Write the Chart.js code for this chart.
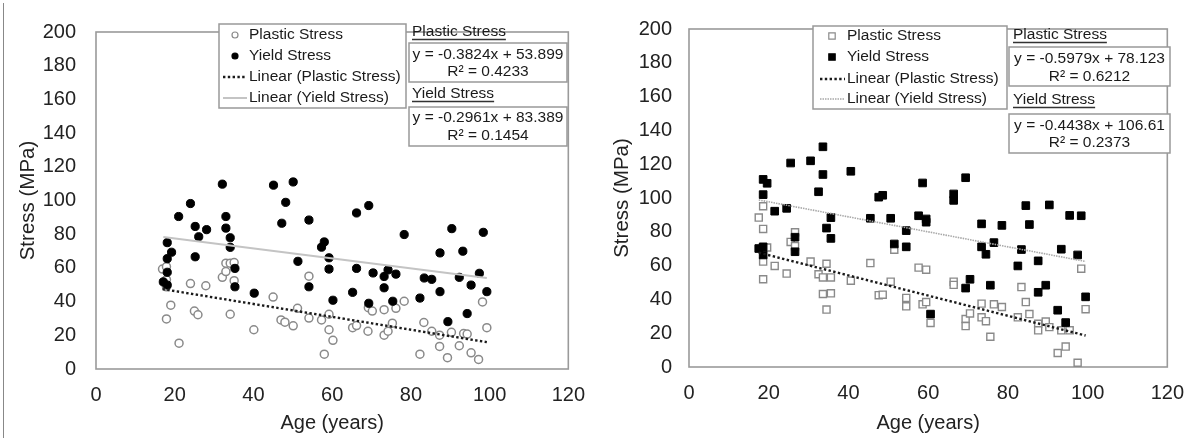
<!DOCTYPE html>
<html>
<head>
<meta charset="utf-8">
<script src="https://cdn.jsdelivr.net/npm/chart.js@4.4.1/dist/chart.umd.min.js"></script>
<style>
  html, body { margin: 0; padding: 0; background: #fff; }
  #wrap { position: relative; width: 1198px; height: 438px; }
  .box { position: absolute; top: 0; width: 599px; height: 438px; }
</style>
</head>
<body>
<div id="wrap">
  <div class="box" style="left:0"><canvas id="left"></canvas></div>
  <div class="box" style="left:599px"><canvas id="right"></canvas></div>
</div>
<script>
// values (age in years, stress in MPa)
const xTicks = [0, 20, 40, 60, 80, 100, 120];
const yTicks = [0, 20, 40, 60, 80, 100, 120, 140, 160, 180, 200];

// left panel (circles)
const yieldAgeL = [17.1, 18.1, 18.1, 18.1, 18.1, 19.2, 21, 24, 25.2, 25.2, 26.1, 28.1, 32.1, 33, 33, 34.1, 34.1, 35.3, 35.3, 40.2,
  45.1, 47.2, 48.2, 50.1, 51.3, 54.1, 54.1, 57.3, 58, 59.2, 59.2, 60.2, 66.2, 65.2, 66.2, 69.3, 69.3, 70.4, 73.2, 73.2,
  74.2, 75.4, 76.2, 78.3, 82.3, 83.4, 85.3, 87.4, 87.4, 89.4, 90.4, 92.3, 93.2, 94.3, 95.3, 97.4, 98.4, 99.3];
const yieldStressL = [51.7, 75, 65.5, 57.4, 49.8, 69.3, 90.5, 98.2, 84.6, 66.6, 78.5, 82.7, 109.7, 90.5, 83.6, 77.9, 72.2, 59.7, 48.8, 45,
  109.1, 86.5, 98.9, 111, 63.9, 88.4, 48.8, 72.3, 75.4, 66, 59.3, 40.8, 92.6, 45.5, 59.7, 97, 39, 57, 54.9, 48.2,
  58.8, 40.2, 56.3, 79.8, 42.1, 54, 53.2, 68.9, 45.9, 28.1, 83.3, 54.4, 69.9, 32.9, 49.8, 56.8, 81.1, 45.9];
const plasticAgeL = [16.9, 17.9, 17.9, 17.9, 17.9, 19, 21.1, 24, 25, 25.9, 27.9, 32.1, 33, 33, 34.1, 35.1, 35.1, 34.1, 40.1,
  45, 47, 48, 50.1, 51.2, 54.1, 54.1, 57.3, 59.2, 58, 59.2, 60.2, 65.2, 66.2, 69.1, 69.2, 70.2, 73.2, 73.2, 74.2,
  75.3, 76.2, 78.3, 82.3, 83.3, 85.3, 87.3, 87.3, 89.3, 90.3, 92.3, 93.4, 94.3, 95.3, 97.2, 98.2, 99.3];
const plasticStressL = [59.3, 60.7, 53, 48.8, 29.7, 37.9, 15.3, 50.7, 34.4, 32.2, 49.4, 54.4, 57.8, 62.8, 62.8, 63.2, 52.4, 32.5, 23.3,
  42.7, 29.1, 27.8, 25.6, 36, 55.1, 30.2, 29.1, 32.5, 8.8, 23.3, 17, 24.5, 25.8, 22.4, 36.4, 34.4, 35.2, 20.1, 22.4,
  27.2, 36, 40.2, 8.8, 27.6, 22.4, 20.1, 13.4, 6.7, 21.8, 13.8, 21, 20.7, 9.6, 5.7, 39.8, 24.5];

// right panel (squares)
const yieldAgeR = [17.5, 18.6, 18.6, 18.6, 18.6, 19.6, 21.5, 24.5, 25.5, 26.6, 26.6, 30.5, 32.5, 33.6, 33.6, 34.5, 35.6, 35.6, 40.6,
  45.5, 47.6, 48.6, 50.6, 51.5, 54.5, 54.5, 57.6, 58.6, 59.5, 59.5, 60.6, 66.4, 66.4, 69.4, 69.4, 70.5, 73.4, 73.4, 74.5,
  75.6, 76.5, 78.5, 82.5, 83.4, 84.5, 85.4, 87.6, 87.6, 89.5, 90.4, 92.5, 93.4, 94.5, 95.5, 97.5, 98.4, 99.5];
const yieldStressR = [70.1, 111, 102, 71.1, 66.3, 108.7, 92.2, 93.9, 120.7, 76.8, 68.2, 122, 103.7, 130.3, 113.9, 82.2, 88.4, 76.1, 115.8,
  88, 100.5, 101.6, 88, 72.8, 80.7, 71.1, 89.5, 108.9, 87.6, 85.7, 31.3, 102.4, 98.6, 112, 46.7, 51.9, 84.7, 71.1, 66.7,
  48.4, 73.6, 83.8, 59.8, 69.5, 95.5, 84.3, 62.8, 44.2, 48.4, 95.9, 33.6, 69.7, 26.3, 89.7, 66.3, 89.5, 41.5];
const plasticAgeR = [17.5, 18.6, 18.6, 18.6, 18.6, 19.6, 21.5, 24.5, 25.5, 26.6, 26.6, 30.5, 32.5, 33.6, 33.6, 34.5, 34.5, 35.6, 35.6,
  40.6, 45.5, 47.6, 48.6, 50.6, 51.5, 54.5, 54.5, 57.6, 58.6, 59.5, 59.5, 60.6, 66.4, 66.4, 69.4, 69.4, 70.5, 73.4, 73.4,
  74.5, 75.6, 76.5, 78.5, 82.5, 83.4, 84.5, 85.4, 87.6, 87.6, 89.5, 90.4, 92.5, 93.4, 94.5, 95.5, 97.5, 98.4, 99.5];
const plasticStressR = [88.4, 95.1, 81.7, 62.4, 51.9, 70.7, 59.8, 55.3, 74, 79.7, 71.5, 62.4, 54.9, 53, 43.2, 61.1, 34, 53, 43.6,
  51.1, 61.5, 42.5, 42.8, 50.5, 69.4, 40.9, 35.9, 58.8, 37.1, 57.6, 38.4, 26.1, 50.5, 48.6, 28.4, 24.2, 31.7, 37.5, 29.4,
  27.1, 17.9, 37.1, 35.5, 29.4, 47.3, 38.4, 31.3, 25.6, 21.7, 26.9, 23.6, 8.3, 21.7, 12.1, 21.7, 2.5, 58.2, 34.2];

// trendline [slope, intercept] and R²
const plasticFitL = [-0.3824, 53.899], plasticR2L = 0.4233;
const yieldFitL = [-0.2961, 83.389], yieldR2L = 0.1454;
const plasticFitR = [-0.5979, 78.123], plasticR2R = 0.6212;
const yieldFitR = [-0.4438, 106.61], yieldR2R = 0.2373;

const FONT = '"Liberation Sans", Arial, sans-serif';
const INK = '#222';

function points(ages, stress) {
  return ages.map((a, i) => ({ x: a, y: stress[i] }));
}

function trend(ages, fit) {
  const x0 = Math.min(...ages), x1 = Math.max(...ages);
  return [{ x: x0, y: fit[0] * x0 + fit[1] }, { x: x1, y: fit[0] * x1 + fit[1] }];
}

function eqText(fit) {
  return 'y = ' + fit[0].toFixed(4) + 'x + ' + fit[1];
}

// frame, legend and equation boxes drawn on top of the chart
function deco(p) {
  return {
    id: 'deco',
    beforeDatasetsDraw(chart) {
      const { ctx, chartArea: a } = chart;
      ctx.save();
      ctx.strokeStyle = '#9a9a9a';
      ctx.lineWidth = 1.6;
      ctx.strokeRect(a.left, a.top, a.right - a.left, a.bottom - a.top);
      if (p.sep) {
        ctx.strokeStyle = '#888';
        ctx.lineWidth = 1;
        ctx.beginPath(); ctx.moveTo(3.5, 3); ctx.lineTo(3.5, 438); ctx.stroke();
      }
      ctx.restore();
    },
    afterDraw(chart) {
      const ctx = chart.ctx;
      const lg = p.legend;
      ctx.save();
      ctx.font = '15.5px ' + FONT;
      ctx.textBaseline = 'middle';

      ctx.fillStyle = '#fff';
      ctx.fillRect(lg.x0, lg.y0, lg.x1 - lg.x0, lg.y1 - lg.y0);
      ctx.strokeStyle = '#999';
      ctx.lineWidth = 1.5;
      ctx.strokeRect(lg.x0, lg.y0, lg.x1 - lg.x0, lg.y1 - lg.y0);

      chart.data.datasets.forEach((ds, i) => {
        const y = lg.rows[i];
        if (ds.showLine) {
          ctx.strokeStyle = ds.borderColor;
          ctx.lineWidth = ds.borderWidth;
          ctx.setLineDash(ds.borderDash || []);
          ctx.beginPath(); ctx.moveTo(lg.l0, y); ctx.lineTo(lg.l1, y); ctx.stroke();
          ctx.setLineDash([]);
        } else {
          ctx.fillStyle = ds.pointBackgroundColor;
          ctx.strokeStyle = ds.pointBorderColor;
          ctx.lineWidth = 1.2;
          ctx.beginPath();
          if (ds.pointStyle === 'rect') ctx.rect(lg.sx - 3.2, y - 3.2, 6.4, 6.4);
          else ctx.arc(lg.sx, y, 3, 0, Math.PI * 2);
          ctx.fill(); ctx.stroke();
        }
        ctx.fillStyle = '#1a1a1a';
        ctx.textAlign = 'left';
        ctx.fillText(ds.label, lg.tx, y);
      });

      p.eqs.forEach(e => {
        ctx.fillStyle = '#1a1a1a';
        ctx.textAlign = 'left';
        ctx.fillText(e.name, e.hx, e.hy);
        const w = ctx.measureText(e.name).width;
        ctx.strokeStyle = '#333';
        ctx.lineWidth = 1.4;
        ctx.beginPath(); ctx.moveTo(e.hx, e.hy + 7.5); ctx.lineTo(e.hx + w, e.hy + 7.5); ctx.stroke();

        ctx.fillStyle = '#fff';
        ctx.fillRect(e.bx0, e.by0, e.bx1 - e.bx0, e.by1 - e.by0);
        ctx.strokeStyle = '#999';
        ctx.lineWidth = 1.5;
        ctx.strokeRect(e.bx0, e.by0, e.bx1 - e.bx0, e.by1 - e.by0);
        ctx.fillStyle = '#1a1a1a';
        ctx.textAlign = 'center';
        const cx = (e.bx0 + e.bx1) / 2;
        ctx.fillText(eqText(e.fit), cx, e.l1);
        ctx.fillText('R² = ' + e.r2, cx, e.l2);
      });
      ctx.restore();
    }
  };
}

function makeChart(id, sets, p) {
  const tickFont = { family: FONT, size: 20 };
  return new Chart(document.getElementById(id), {
    type: 'scatter',
    data: { datasets: sets },
    options: {
      responsive: true,
      maintainAspectRatio: false,
      animation: false,
      events: [],
      layout: { padding: { top: 21, right: p.padRight, bottom: 0, left: 0 } },
      plugins: { legend: { display: false }, tooltip: { enabled: false } },
      scales: {
        x: {
          type: 'linear', min: xTicks[0], max: xTicks[xTicks.length - 1],
          afterBuildTicks: s => { s.ticks = xTicks.map(v => ({ value: v })); },
          ticks: { padding: 14, color: INK, font: tickFont, maxRotation: 0 },
          grid: { display: false, drawTicks: false },
          border: { display: false },
          title: { display: true, text: 'Age (years)', color: INK, font: tickFont, padding: { top: 0, bottom: 3 } },
          afterFit: s => { s.height = p.xh; }
        },
        y: {
          type: 'linear', min: yTicks[0], max: yTicks[yTicks.length - 1],
          afterBuildTicks: s => { s.ticks = yTicks.map(v => ({ value: v })); },
          ticks: { padding: p.tickPad, color: INK, font: tickFont },
          grid: { display: false, drawTicks: false },
          border: { display: false },
          title: { display: true, text: 'Stress (MPa)', color: INK, font: { family: FONT, size: 20.5 }, padding: { top: p.titlePad, bottom: 0 } },
          afterFit: s => { s.width = p.yw; }
        }
      }
    },
    plugins: [deco(p)]
  });
}

makeChart('left', [
  { label: 'Plastic Stress', order: 4, data: points(plasticAgeL, plasticStressL), pointStyle: 'circle', pointRadius: 4,
    pointBackgroundColor: '#fff', pointBorderColor: '#8a8a8a', pointBorderWidth: 1.5 },
  { label: 'Yield Stress', order: 3, data: points(yieldAgeL, yieldStressL), pointStyle: 'circle', pointRadius: 4.1,
    pointBackgroundColor: '#000', pointBorderColor: '#000', pointBorderWidth: 1 },
  { label: 'Linear (Plastic Stress)', order: 2, data: trend(plasticAgeL, plasticFitL), showLine: true, pointRadius: 0,
    borderColor: '#1a1a1a', borderWidth: 2.4, borderDash: [2.4, 2.4] },
  { label: 'Linear (Yield Stress)', order: 1, data: trend(yieldAgeL, yieldFitL), showLine: true, pointRadius: 0,
    borderColor: '#c4c4c4', borderWidth: 2 }
], {
  sep: true, padRight: 22, xh: 69, yw: 96, tickPad: 20, titlePad: 16,
  legend: { x0: 219, y0: 24, x1: 406, y1: 108, rows: [35, 56, 77, 98], sx: 235, l0: 223, l1: 247, tx: 249 },
  eqs: [
    { name: 'Plastic Stress', hx: 412, hy: 32, bx0: 409, by0: 43, bx1: 567, by1: 82, l1: 55, l2: 72, fit: plasticFitL, r2: plasticR2L },
    { name: 'Yield Stress', hx: 412, hy: 94, bx0: 409, by0: 107, bx1: 567, by1: 146, l1: 118, l2: 136, fit: yieldFitL, r2: yieldR2L }
  ]
});

makeChart('right', [
  { label: 'Plastic Stress', order: 4, data: points(plasticAgeR, plasticStressR), pointStyle: 'rect', pointRadius: 5,
    pointBackgroundColor: '#fff', pointBorderColor: '#8a8a8a', pointBorderWidth: 1.4 },
  { label: 'Yield Stress', order: 3, data: points(yieldAgeR, yieldStressR), pointStyle: 'rect', pointRadius: 5.4,
    pointBackgroundColor: '#000', pointBorderColor: '#000', pointBorderWidth: 1 },
  { label: 'Linear (Plastic Stress)', order: 2, data: trend(plasticAgeR, plasticFitR), showLine: true, pointRadius: 0,
    borderColor: '#1a1a1a', borderWidth: 2.4, borderDash: [2.4, 2.4] },
  { label: 'Linear (Yield Stress)', order: 1, data: trend(yieldAgeR, yieldFitR), showLine: true, pointRadius: 0,
    borderColor: '#a8a8a8', borderWidth: 1.6, borderDash: [1.5, 1] }
], {
  sep: false, padRight: 28, xh: 71, yw: 90, tickPad: 17, titlePad: 11,
  legend: { x0: 214, y0: 26, x1: 408, y1: 109, rows: [36, 57, 79, 99], sx: 233, l0: 221, l1: 246, tx: 248 },
  eqs: [
    { name: 'Plastic Stress', hx: 414, hy: 35, bx0: 410, by0: 47, bx1: 571, by1: 86, l1: 59, l2: 77, fit: plasticFitR, r2: plasticR2R },
    { name: 'Yield Stress', hx: 414, hy: 100, bx0: 410, by0: 114, bx1: 571, by1: 153, l1: 126, l2: 143, fit: yieldFitR, r2: yieldR2R }
  ]
});
</script>
</body>
</html>
